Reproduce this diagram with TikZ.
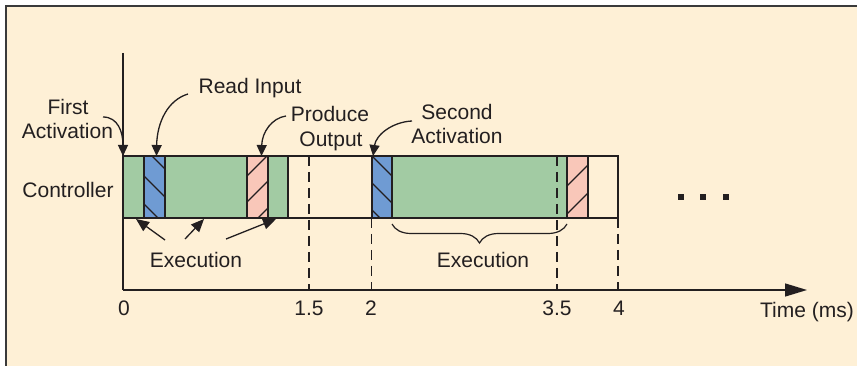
\documentclass[tikz,border=0pt]{standalone}
\usepackage{fontspec}
\setmainfont{Liberation Sans}
\usetikzlibrary{arrows.meta,decorations.pathreplacing,calc}
\definecolor{cream}{HTML}{FEF0D6}
\definecolor{ink}{HTML}{231F20}
\definecolor{frameline}{HTML}{3A3A3A}
\definecolor{cgreen}{HTML}{A2CBA3}
\definecolor{cblue}{HTML}{6F9BD3}
\definecolor{cpink}{HTML}{F9C7B9}
\begin{document}
\begin{tikzpicture}[x=1pt,y=-1pt,
  font=\fontsize{21}{24}\selectfont,
  lbl/.style={anchor=base, inner sep=0pt, text=ink},
  blk/.style={draw=ink, line width=1.5pt, minimum width=#1, minimum height=62pt,
    inner sep=0pt, outer sep=0pt, anchor=north west},
  hatchln/.style={draw=ink, line width=1.2pt},
  hatchdown/.style={path picture={\foreach \c in {#1}{\draw[hatchln]
      ([shift={(-10pt,\c pt+10pt)}]path picture bounding box.north west) -- ++(50pt,-50pt);}}},
  hatchup/.style={path picture={\foreach \c in {#1}{\draw[hatchln]
      ([shift={(-10pt,-\c pt-10pt)}]path picture bounding box.north west) -- ++(50pt,50pt);}}},
  axisln/.style={draw=ink, line width=1.4pt},
  guide/.style={draw=ink, line width=1.2pt, dash pattern=on 10pt off 6pt},
  callout/.style={draw=ink, line width=1.3pt, -{Triangle[length=11pt,width=10pt]}},
  pointer/.style={draw=ink, line width=1.3pt, -{Triangle[length=13pt,width=11pt]}},
  dotsq/.style={fill=ink, minimum size=6pt, inner sep=0pt},
]
% canvas and frame
\useasboundingbox (0,0) rectangle (857,366);
\fill[white] (0,0) rectangle (857,366);
\fill[cream] (6,6) rectangle (857,366);
\draw[frameline, line width=1.6pt] (857,6) -- (6,6) -- (6,366);

% timeline outline
\node[blk=495pt] (bar) at (123,156) {};

% controller activity blocks
\node[blk=21pt, fill=cgreen] (g1) at (123,156) {};
\node[blk=21pt, fill=cblue, hatchdown={8,-20,-48}] (r1) at (144,156) {};
\node[blk=82pt, fill=cgreen] (g2) at (165,156) {};
\node[blk=21pt, fill=cpink, hatchup={20,46,73}] (w1) at (247,156) {};
\node[blk=20pt, fill=cgreen] (g3) at (268,156) {};
\node[blk=20pt, fill=cblue, hatchdown={0,-27,-54}] (r2) at (372,156) {};
\node[blk=175pt, fill=cgreen] (g4) at (392,156) {};
\node[blk=21pt, fill=cpink, hatchup={30,58}] (w2) at (567,156) {};

% time axes
\coordinate (ytop) at (123,53);
\coordinate (orig) at (123,290);
\coordinate (xend) at (807,290);
\draw[axisln] (ytop) -- (orig);
\draw[axisln, -{Triangle[length=22pt,width=13pt]}] (orig) -- (xend);

% period guides
\draw[guide] (309,156) -- (309,290);
\draw[guide] (371.5,218) -- (371.5,290);
\draw[guide] (557,156) -- (557,290);
\draw[guide] (618,218) -- (618,290);

% tick labels
\node[lbl] (t0) at (124,316) {0};
\node[lbl] (t15) at (309,316) {1.5};
\node[lbl] (t2) at (371,316) {2};
\node[lbl] (t35) at (557,316) {3.5};
\node[lbl] (t4) at (619,316) {4};
\node[lbl] (tl) at (807,317) {Time (ms)};

% row label
\node[lbl] (ctl) at (68,198) {Controller};

% callouts above the bar
\node[lbl] (fa1) at (68,115) {First};
\node[lbl] (fa2) at (67.5,139) {Activation};
\node[lbl] (ri) at (250,94) {Read Input};
\node[lbl] (po1) at (330,122) {Produce};
\node[lbl] (po2) at (331,147) {Output};
\node[lbl] (sa1) at (457,120) {Second};
\node[lbl] (sa2) at (457,144) {Activation};

\coordinate (faS) at (103,117);
\coordinate (riS) at (188,94);
\coordinate (poS) at (286,116);
\coordinate (saS) at (412,121);
\draw[callout] (faS) .. controls (118,117) and (123,132) .. (g1.north west);
\draw[callout] (riS) .. controls (168,100) and (157,122) .. ([xshift=2pt]r1.north);
\draw[callout] (poS) .. controls (272,118) and (262,132) .. ([xshift=4pt]w1.north);
\draw[callout] (saS) .. controls (392,122) and (376,135) .. ([xshift=1pt]r2.north west);

% execution labels below the bar
\node[lbl] (ex1) at (196,268) {Execution};
\coordinate (e1S) at (165,240);
\coordinate (e2S) at (185,239);
\coordinate (e3S) at (226,239);
\draw[pointer] (e1S) -- ([xshift=2.5pt,yshift=-1pt]g1.south);
\draw[pointer] (e2S) -- ([xshift=-2pt,yshift=-1pt]g2.south);
\draw[pointer] (e3S) -- ([xshift=-2pt,yshift=-1pt]g3.south);

\coordinate (brL) at (392,224);
\coordinate (brR) at (567,224);
\draw[draw=ink, line width=1.2pt, decorate,
  decoration={brace, mirror, amplitude=19pt}] (brL) -- (brR);
\node[lbl] (ex2) at (483,268) {Execution};

% continuation marks
\node[dotsq] (d1) at (681,197) {};
\node[dotsq] (d2) at (703,197) {};
\node[dotsq] (d3) at (726,197) {};
\end{tikzpicture}
\end{document}
